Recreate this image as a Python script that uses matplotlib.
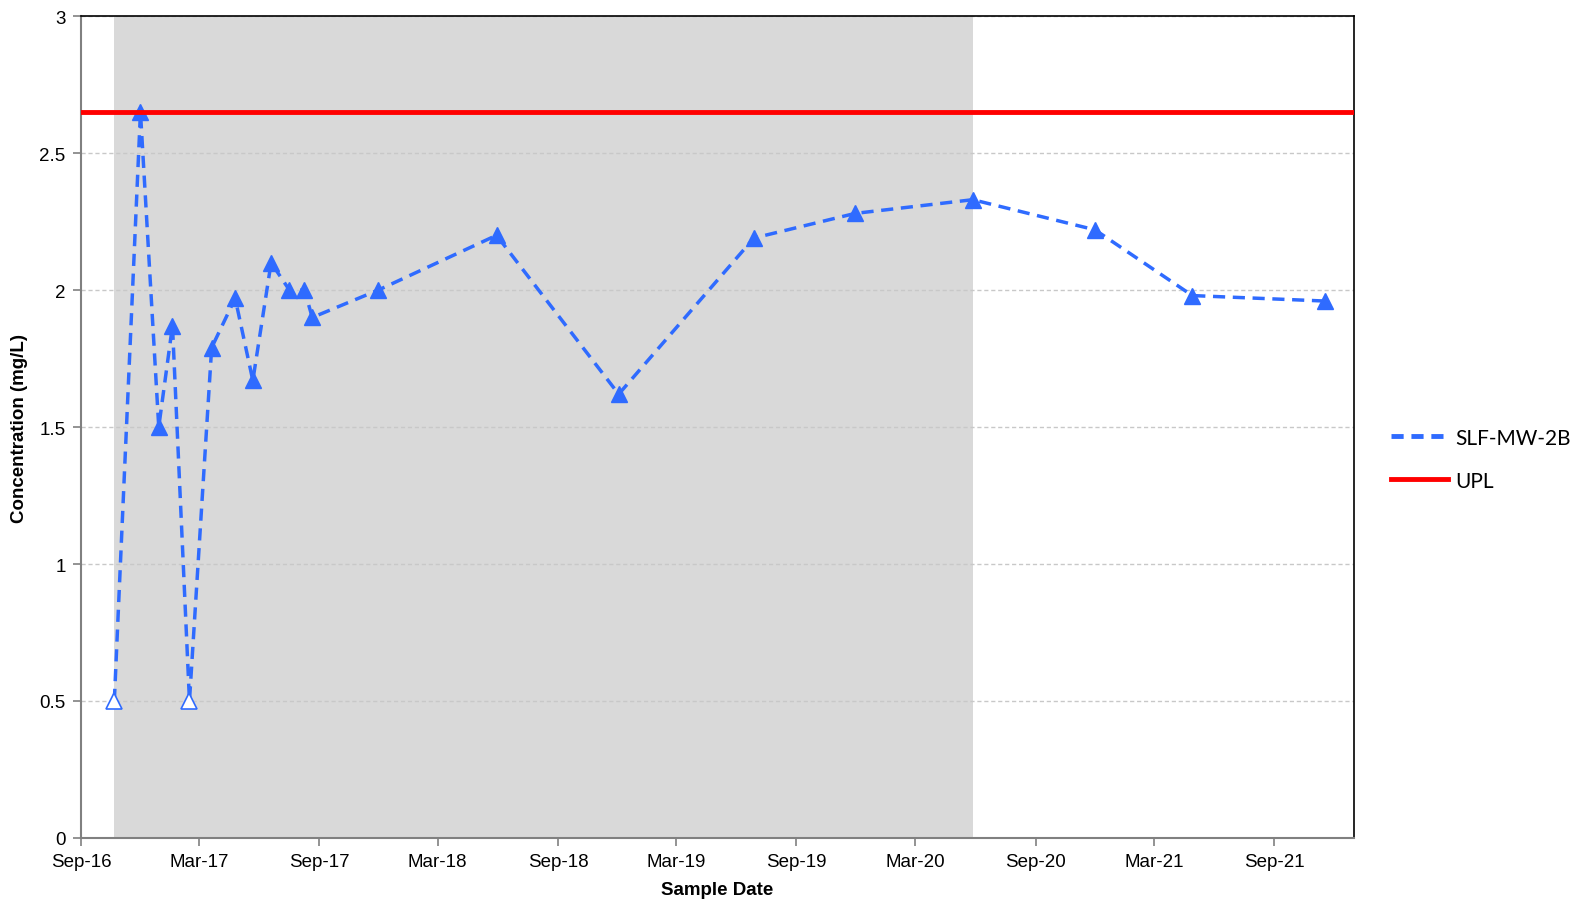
import matplotlib
matplotlib.use("Agg")
import matplotlib.pyplot as plt
import matplotlib.dates as mdates
from matplotlib.lines import Line2D
import numpy as np
import pandas as pd

# SLF-MW-2B sample results (mg/L); hollow markers are non-detects
sample_dates = [
    "2016-10-22", "2016-12-01", "2016-12-29", "2017-01-19", "2017-02-14",
    "2017-03-20", "2017-04-25", "2017-05-22", "2017-06-19", "2017-07-17",
    "2017-08-09", "2017-08-21", "2017-11-30", "2018-05-30", "2018-12-03",
    "2019-06-28", "2019-11-30", "2020-05-28", "2020-12-01", "2021-04-29",
    "2021-11-18",
]
concentration = [
    0.5, 2.65, 1.5, 1.87, 0.5,
    1.79, 1.97, 1.67, 2.1, 2.0,
    2.0, 1.9, 2.0, 2.2, 1.62,
    2.19, 2.28, 2.33, 2.22, 1.98,
    1.96,
]
non_detect = [
    True, False, False, False, True,
    False, False, False, False, False,
    False, False, False, False, False,
    False, False, False, False, False,
    False,
]
upl_value = 2.65
background_period = ("2016-10-22", "2020-05-28")

tick_dates = pd.date_range("2016-09-01", "2021-09-01", freq="6MS")
x_limits = ("2016-09-01", "2022-01-01")

dates = pd.to_datetime(sample_dates)
conc = np.array(concentration)
nd = np.array(non_detect)

fig = plt.figure(figsize=(15.79, 9.04), dpi=100)
ax = fig.add_axes([0.0513, 0.072, 0.806, 0.909])

blue = "#2f6bff"
dash = (0, (3.5, 2.2))
ax.grid(axis="y", color="#c8c8c8", linestyle=(0, (3, 2)), linewidth=1, zorder=0)
ax.axvspan(pd.Timestamp(background_period[0]), pd.Timestamp(background_period[1]),
           color="#d9d9d9", zorder=1, lw=0)

ax.plot(dates, conc, color=blue, linestyle=dash, linewidth=2.5, zorder=3)
ax.plot(dates[~nd], conc[~nd], linestyle="none", marker="^", markersize=12,
        color=blue, zorder=4)
ax.plot(dates[nd], conc[nd], linestyle="none", marker="^", markersize=12,
        markerfacecolor="white", markeredgecolor=blue, markeredgewidth=1.2, zorder=4)
ax.axhline(upl_value, color="#ff0000", linewidth=3.5, zorder=5)

ax.set_xlim(pd.Timestamp(x_limits[0]), pd.Timestamp(x_limits[1]))
ax.set_ylim(0, 3)
ax.set_yticks([0, 0.5, 1, 1.5, 2, 2.5, 3])
ax.set_yticklabels(["0", "0.5", "1", "1.5", "2", "2.5", "3"])
ax.set_xticks(tick_dates)
ax.xaxis.set_major_formatter(mdates.DateFormatter("%b-%y"))

for side in ["left", "bottom"]:
    ax.spines[side].set_color("#808080")
    ax.spines[side].set_linewidth(1.5)
for side in ["top", "right"]:
    ax.spines[side].set_color("black")
    ax.spines[side].set_linewidth(1.2)
ax.tick_params(direction="out", length=6, width=1.2, color="#808080",
               labelsize=13.5, pad=5)
for lbl in ax.get_xticklabels() + ax.get_yticklabels():
    lbl.set_fontfamily("Liberation Sans")

ax.set_xlabel("Sample Date", fontsize=13.5, fontweight="bold",
              fontfamily="Liberation Sans", labelpad=8)
ax.set_ylabel("Concentration (mg/L)", fontsize=13.5, fontweight="bold",
              fontfamily="Liberation Sans", labelpad=8)

# legend entries drawn without markers
handles = [
    Line2D([], [], color=blue, linestyle=(0, (2.5, 1.6)), linewidth=3.5),
    Line2D([], [], color="#ff0000", linewidth=3.5),
]
fig.legend(handles, ["SLF-MW-2B", "UPL"], loc="center left",
           bbox_to_anchor=(0.881, 0.491), frameon=False, borderpad=0,
           borderaxespad=0, handlelength=2.75, handletextpad=0.35,
           labelspacing=1.1, prop={"family": "Lato", "size": 15})

fig.savefig("out.png", dpi=100)
